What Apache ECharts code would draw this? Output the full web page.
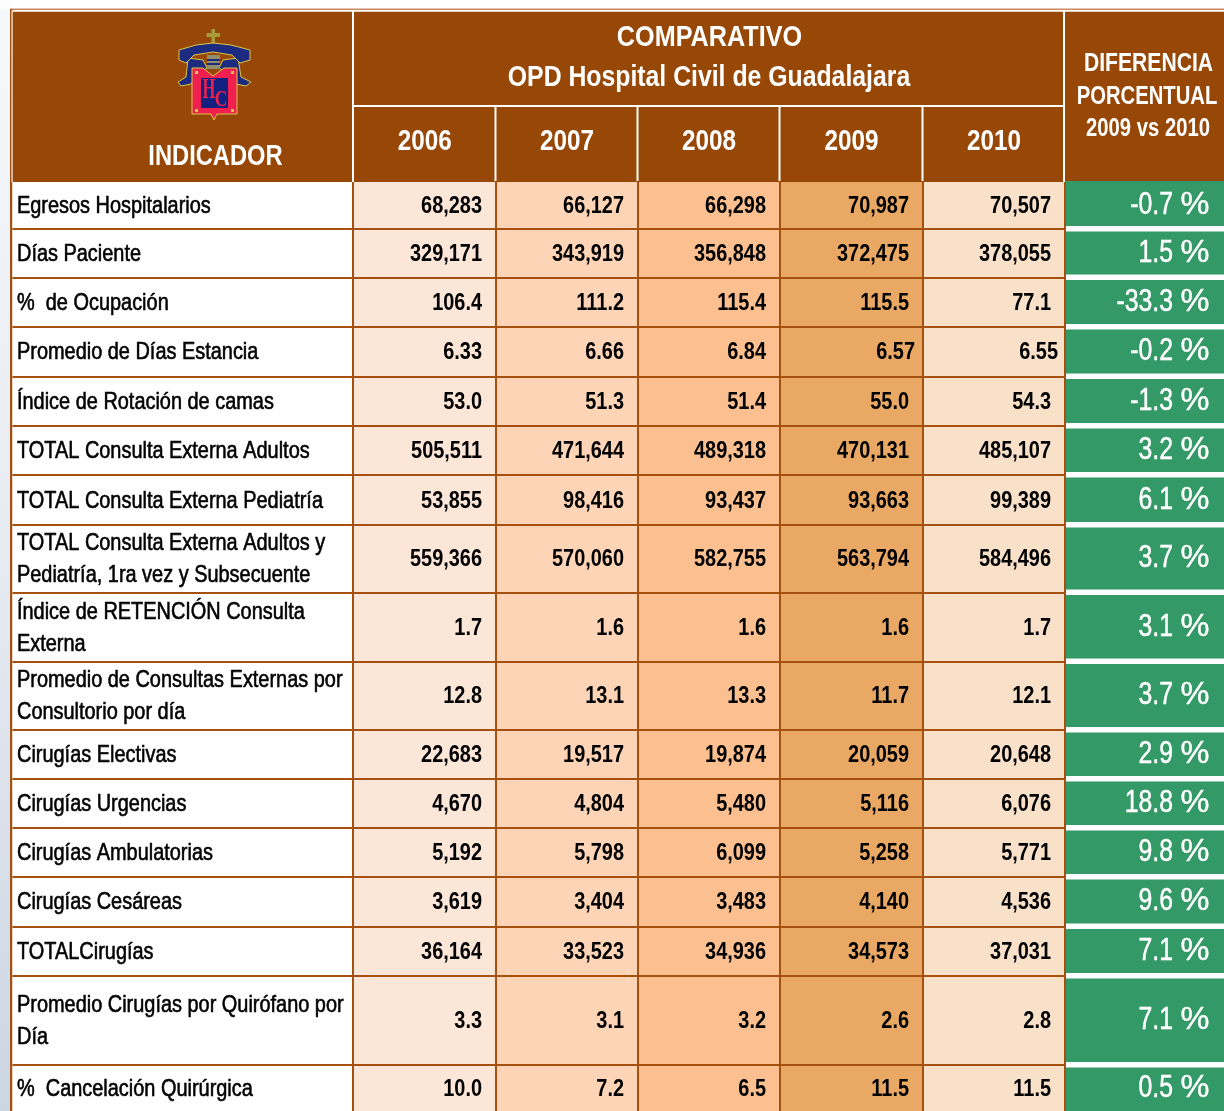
<!DOCTYPE html>
<html>
<head>
<meta charset="utf-8">
<title>Comparativo OPD Hospital Civil de Guadalajara</title>
<style>
html,body{margin:0;padding:0;background:#fff;overflow:hidden}
#main{width:1224px;height:1111px}
</style>
<script src="https://cdn.jsdelivr.net/npm/echarts@6/dist/echarts.min.js"></script>
</head>
<body>
<div id="main"></div>
<script>
const years = ['2006', '2007', '2008', '2009', '2010'];
const indicators = [
    'Egresos Hospitalarios',
    'Días Paciente',
    '%  de Ocupación',
    'Promedio de Días Estancia',
    'Índice de Rotación de camas',
    'TOTAL Consulta Externa Adultos',
    'TOTAL Consulta Externa Pediatría',
    'TOTAL Consulta Externa Adultos y\nPediatría, 1ra vez y Subsecuente',
    'Índice de RETENCIÓN Consulta\nExterna',
    'Promedio de Consultas Externas por\nConsultorio por día',
    'Cirugías Electivas',
    'Cirugías Urgencias',
    'Cirugías Ambulatorias',
    'Cirugías Cesáreas',
    'TOTALCirugías',
    'Promedio Cirugías por Quirófano por\nDía',
    '%  Cancelación Quirúrgica'
];
const decimals = [0, 0, 1, 2, 1, 0, 0, 0, 1, 1, 0, 0, 0, 0, 0, 1, 1];
const v2006 = [68283, 329171, 106.4, 6.33, 53.0, 505511, 53855, 559366, 1.7, 12.8, 22683, 4670, 5192, 3619, 36164, 3.3, 10.0];
const v2007 = [66127, 343919, 111.2, 6.66, 51.3, 471644, 98416, 570060, 1.6, 13.1, 19517, 4804, 5798, 3404, 33523, 3.1, 7.2];
const v2008 = [66298, 356848, 115.4, 6.84, 51.4, 489318, 93437, 582755, 1.6, 13.3, 19874, 5480, 6099, 3483, 34936, 3.2, 6.5];
const v2009 = [70987, 372475, 115.5, 6.57, 55.0, 470131, 93663, 563794, 1.6, 11.7, 20059, 5116, 5258, 4140, 34573, 2.6, 11.5];
const v2010 = [70507, 378055, 77.1, 6.55, 54.3, 485107, 99389, 584496, 1.7, 12.1, 20648, 6076, 5771, 4536, 37031, 2.8, 11.5];
const diferencia = [-0.7, 1.5, -33.3, -0.2, -1.3, 3.2, 6.1, 3.7, 3.1, 3.7, 2.9, 18.8, 9.8, 9.6, 7.1, 7.1, 0.5];
const yearValues = [v2006, v2007, v2008, v2009, v2010];

// table layout, in the units of the hidden axes
const colEdges = [352.5, 495, 637, 779, 922, 1064];
const rowEdges = [182, 229, 277.5, 327, 376.5, 426, 475, 525, 592.5, 661.5, 730, 779, 828, 877, 926.5, 976, 1065, 1111];
const yearFills = ['#fce6d8', '#fdd5b6', '#fbbf90', '#e9a965', '#f8e0c9'];

const BROWN = '#974706';
const LINE = '#a5500f';
const GREEN = '#339966';
const FONT = '"Liberation Sans",Arial,sans-serif';

const formatValue = (v, d) => v.toLocaleString('en-US', {minimumFractionDigits: d, maximumFractionDigits: d});

function rectShape(api, x0, y0, x1, y1) {
    const a = api.coord([x0, y0]);
    const b = api.coord([x1, y1]);
    return {x: a[0], y: a[1], width: b[0] - a[0], height: b[1] - a[1]};
}
function box(api, x0, y0, x1, y1, fill) {
    return {type: 'rect', shape: rectShape(api, x0, y0, x1, y1), style: {fill: fill}};
}
function label(api, x, y, text, o) {
    const p = api.coord([x, y + 2]);
    return {
        type: 'text', x: p[0], y: p[1], scaleX: o.scaleX || 1,
        style: {
            text: text, fill: o.fill || '#000', align: o.align || 'center', verticalAlign: 'middle',
            fontFamily: o.family || FONT, fontSize: o.size, fontWeight: o.weight || 'normal',
            lineHeight: o.lineHeight || o.size * 1.2,
            stroke: o.stroke || null, lineWidth: o.stroke ? (o.strokeWidth || 0.4) : 0
        }
    };
}
function poly(api, points, fill, stroke) {
    return {
        type: 'polygon',
        shape: {points: points.map(p => api.coord(p))},
        style: {fill: fill, stroke: stroke || null, lineWidth: stroke ? 1 : 0}
    };
}

function renderBackground(params, api) {
    return {type: 'group', children: [
        box(api, 0, 0, 1224, 1111, '#fff'),
        {type: 'rect', shape: rectShape(api, 0, 9, 10, 1111), style: {
            fill: new echarts.graphic.LinearGradient(0, 0, 0, 1, [
                {offset: 0, color: '#f6f7fa'}, {offset: 0.5, color: '#e6ebf2'}, {offset: 1, color: '#ccd5e2'}
            ])
        }},
        box(api, 0, 0, 10, 9, '#fdfdfe'),
        box(api, 10, 8.5, 1224, 10, '#c98a62'),
        box(api, 10, 9, 12.5, 1111, LINE),
        box(api, 12.5, 11.5, 1224, 182, BROWN),
        box(api, 12.5, 10.5, 1224, 11.5, '#fff'),
        box(api, 11.5, 10.5, 12.5, 182, '#fff'),
        box(api, 352, 11, 354, 182, '#fff'),
        box(api, 1063, 11, 1065, 182, '#fff'),
        box(api, 353, 105, 1064, 107, '#fff')
    ]};
}

function renderYearColumn(params, api) {
    const i = api.value(0);
    const x0 = colEdges[i];
    const x1 = colEdges[i + 1];
    const children = [box(api, x0, 182, x1, 1111, yearFills[i])];
    children.push(box(api, x0 - 0.5, 107, x0 + 1.5, 181, '#fff'));
    children.push(label(api, (x0 + x1) / 2 + 1, 140, years[i], {size: 30, weight: 'bold', fill: '#fff', scaleX: 0.81}));
    return {type: 'group', children: children};
}

function renderRow(params, api) {
    const r = api.value(0);
    const y0 = rowEdges[r];
    const y1 = rowEdges[r + 1];
    const mid = (y0 + y1) / 2;
    const children = [box(api, 12.5, y0, colEdges[0], y1, '#fff')];
    children.push(label(api, 17, mid - 1, indicators[r], {
        size: 24, align: 'left', lineHeight: 32, scaleX: 0.83, stroke: '#000', strokeWidth: 0.6
    }));
    // values keep to the right of each year column, with the two loose ones of the source
    for (let c = 0; c < years.length; c++) {
        const nudge = r === 3 && c >= 3 ? (c === 3 ? 6 : 7) : 0;
        children.push(label(api, colEdges[c + 1] - 13 + nudge, mid - 1, formatValue(yearValues[c][r], decimals[r]), {
            size: 24, weight: 'bold', align: 'right', scaleX: 0.83
        }));
    }
    // green cell with white gap to its neighbours
    children.push(box(api, 1065, r === 0 ? 181 : y0 + 2.5, 1224, r === rowEdges.length - 2 ? y1 : y1 - 3, GREEN));
    children.push(label(api, 1173, mid - 2, diferencia[r].toFixed(1), {
        size: 31, align: 'right', fill: '#fff', scaleX: 0.8, stroke: '#fff', strokeWidth: 0.5
    }));
    children.push(label(api, 1209.5, mid - 2, '%', {size: 31, align: 'right', fill: '#fff', scaleX: 1.05, stroke: '#fff', strokeWidth: 0.4}));
    return {type: 'group', children: children};
}

function renderLines(params, api) {
    const children = [];
    rowEdges.slice(1, -1).forEach(y => children.push(box(api, 12.5, Math.round(y) - 1, 1064, Math.round(y) + 1, LINE)));
    colEdges.forEach(x => children.push(box(api, Math.floor(x), 182, Math.floor(x) + 2, 1111, LINE)));
    return {type: 'group', children: children};
}

function renderHeader(params, api) {
    const white = {weight: 'bold', fill: '#fff'};
    const gold = '#d8c848';
    const navy = '#1c2a80';
    const red = '#ef1f4f';
    const serif = '"Liberation Serif",serif';
    return {type: 'group', children: [
        label(api, 709.5, 36, 'COMPARATIVO', {...white, size: 30, scaleX: 0.84}),
        label(api, 709, 76, 'OPD Hospital Civil de Guadalajara', {...white, size: 29, scaleX: 0.855}),
        label(api, 215.5, 155, 'INDICADOR', {...white, size: 30, scaleX: 0.79}),
        label(api, 1148.5, 62, 'DIFERENCIA', {...white, size: 25, scaleX: 0.845}),
        label(api, 1147, 95, 'PORCENTUAL', {...white, size: 25, scaleX: 0.81}),
        label(api, 1148, 127, '2009 vs 2010', {...white, size: 25, scaleX: 0.81}),
        // hospital crest
        box(api, 211.5, 29, 215, 44, '#a89b3c'),
        box(api, 206.5, 33, 220, 37, '#a89b3c'),
        poly(api, [[188,58],[203,60],[207,68],[198,74],[191,84],[181,86],[178,82],[186,77]], navy, gold),
        poly(api, [[238,58],[223,60],[219,68],[228,74],[236,84],[246,86],[251,82],[241,77]], navy, gold),
        poly(api, [[179,50],[196,45],[213,43],[231,45],[250,50],[250,60],[240,63],[232,55],[213,52],[194,55],[186,63],[179,60]], navy, gold),
        box(api, 207, 55, 220, 69, '#8f8f6c'),
        box(api, 207, 59, 220, 61, navy),
        box(api, 207, 63, 220, 65, navy),
        poly(api, [[192,68],[203,68],[213,76],[224,68],[237,68],[237,114],[217,114],[214,120],[211,114],[192,114]], red, gold),
        box(api, 201, 78, 228, 108, '#12207f'),
        label(api, 209, 88, 'H', {size: 30, weight: 'bold', fill: red, scaleX: 0.55, family: serif}),
        label(api, 221, 98, 'C', {size: 24, weight: 'bold', fill: red, scaleX: 0.72, family: serif}),
        box(api, 195, 71, 198, 74, gold),
        box(api, 231, 71, 234, 74, gold),
        box(api, 195, 109, 198, 112, gold),
        box(api, 231, 109, 234, 112, gold)
    ]};
}

const customSeries = (data, renderItem) => ({
    type: 'custom', coordinateSystem: 'cartesian2d', data: data, renderItem: renderItem, silent: true, clip: false
});

const chart = echarts.init(document.getElementById('main'));
chart.setOption({
    animation: false,
    grid: {left: 0, right: 0, top: 0, bottom: 0},
    xAxis: {type: 'value', min: 0, max: 1224, show: false},
    yAxis: {type: 'value', min: 0, max: 1111, inverse: true, show: false},
    series: [
        customSeries([[0]], renderBackground),
        customSeries(years.map((y, i) => [i]), renderYearColumn),
        customSeries(indicators.map((n, i) => [i]), renderRow),
        customSeries([[0]], renderLines),
        customSeries([[0]], renderHeader)
    ]
});
</script>
</body>
</html>
